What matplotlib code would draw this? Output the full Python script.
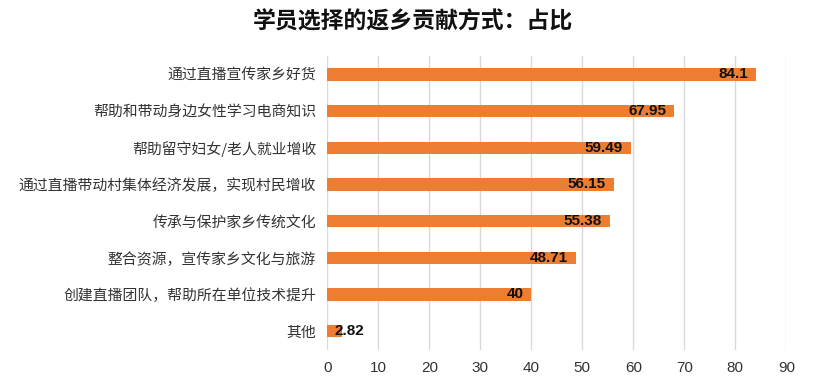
import matplotlib
import matplotlib.pyplot as plt

matplotlib.use('Agg')
plt.rcParams['font.family'] = ['Noto Sans CJK SC', 'DejaVu Sans']

categorias = ['通过直播宣传家乡好货', '帮助和带动身边女性学习电商知识', '帮助留守妇女/老人就业增收',
              '通过直播带动村集体经济发展，实现村民增收', '传承与保护家乡传统文化',
              '整合资源，宣传家乡文化与旅游', '创建直播团队，帮助所在单位技术提升', '其他']
valores = [84.1, 67.95, 59.49, 56.15, 55.38, 48.71, 40, 2.82]
rotulos = ['84.1', '67.95', '59.49', '56.15', '55.38', '48.71', '40', '2.82']
ticks_x = list(range(0, 100, 10))

fig = plt.figure(figsize=(8.25, 3.85), dpi=100)
ax = fig.add_axes([0.3967, 0.0922, 0.5564, 0.762])

pos = list(range(len(categorias)))
ax.barh(pos, valores, height=0.34, color='#ED7D31', zorder=3)
ax.set_ylim(len(categorias) - 0.5, -0.5)
ax.set_xlim(0, 90)
ax.set_xticks(ticks_x)
ax.set_yticks(pos)
ax.set_yticklabels(categorias, fontsize=10.7, color='#333333')
ax.tick_params(axis='x', labelsize=11, colors='#333333', length=0, pad=8)
ax.tick_params(axis='y', length=0, pad=8)
for lbl in ax.get_xticklabels():
    lbl.set_family('Liberation Sans')

ax.grid(axis='x', color='#d9d9d9', linewidth=1, zorder=0)
for s in ax.spines.values():
    s.set_visible(False)

for p, v, r in zip(pos, valores, rotulos):
    if v < 10:
        ax.text(1.5, p, r, ha='left', va='center', fontsize=11, fontweight='bold',
                family='Liberation Sans', color='#111111', zorder=4)
    else:
        ax.text(v - 1.5, p, r, ha='right', va='center', fontsize=11, fontweight='bold',
                family='Liberation Sans', color='#111111', zorder=4)

fig.text(0.5, 0.943, '学员选择的返乡贡献方式：占比', ha='center', va='center',
         fontsize=16.5, fontweight='bold', color='#111111')

fig.savefig('out.png', dpi=100)
